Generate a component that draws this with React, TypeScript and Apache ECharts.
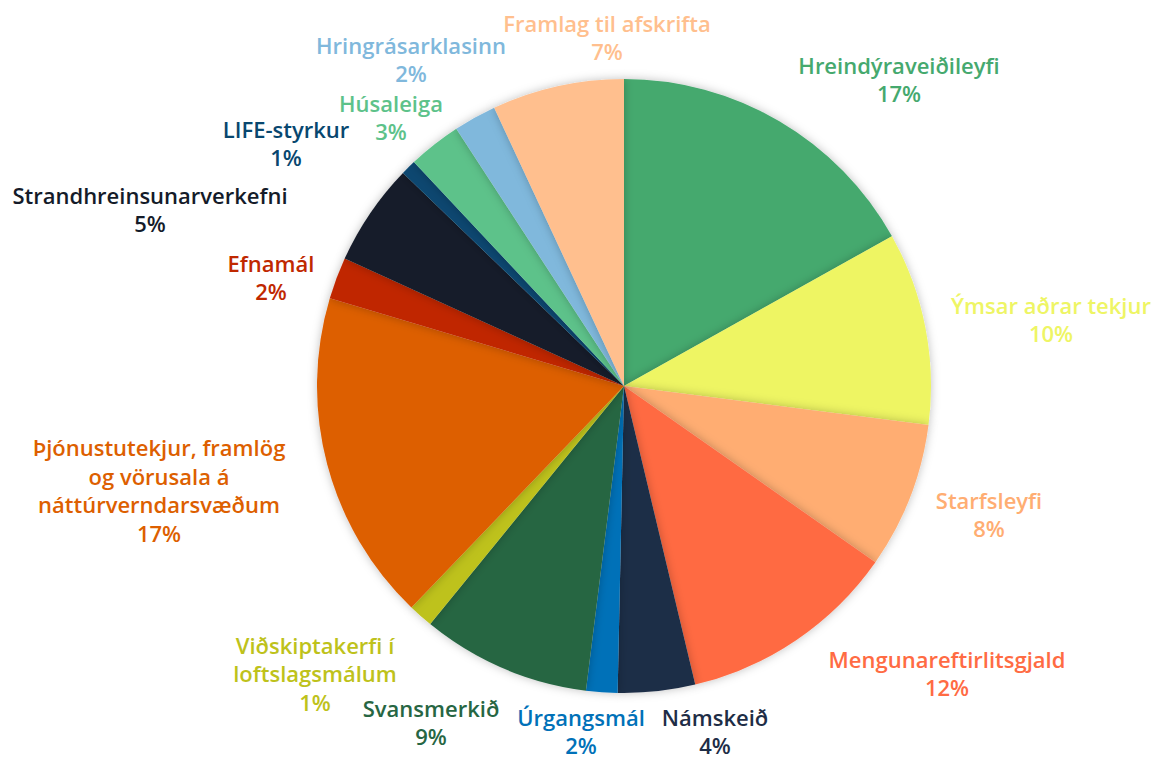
import React, { useEffect, useRef } from "react";
import * as echarts from "echarts";

const categories = [
  "Hreindýraveiðileyfi",
  "Ýmsar aðrar tekjur",
  "Starfsleyfi",
  "Mengunareftirlitsgjald",
  "Námskeið",
  "Úrgangsmál",
  "Svansmerkið",
  "Viðskiptakerfi í\nloftslagsmálum",
  "Þjónustutekjur, framlög\nog vörusala á\nnáttúrverndarsvæðum",
  "Efnamál",
  "Strandhreinsunarverkefni",
  "LIFE-styrkur",
  "Húsaleiga",
  "Hringrásarklasinn",
  "Framlag til afskrifta",
];

const values = [16.9, 10.15, 7.7, 11.55, 4.06, 1.65, 8.9, 1.3, 17.45, 2.2, 5.4, 0.8, 2.8, 2.25, 6.95];

const colors = [
  "#45A96E", "#EEF564", "#FFAD72", "#FF6B43", "#1E2D46", "#0071B8", "#276643", "#BEC21B",
  "#DD5F00", "#C02800", "#141B29", "#08476F", "#5DC28A", "#80B8DC", "#FFBF8E",
];

// label block centres (px)
const labelCentres: [number, number][] = [
  [899, 79], [1051, 319], [989, 514], [947, 673], [715, 731], [581, 731], [431, 722],
  [315, 673], [159, 490], [271, 277], [150, 209], [286, 143], [391, 117], [411, 59], [607, 37],
];

export default function App() {
  const ref = useRef<HTMLDivElement>(null);
  useEffect(() => {
    const chart = echarts.init(ref.current!, null, { renderer: "svg" });
    chart.setOption({
      animation: false,
      backgroundColor: "#ffffff",
      series: [
        {
          type: "pie",
          center: [624, 386],
          radius: 307,
          startAngle: 90,
          clockwise: true,
          data: categories.map((name, i) => ({
            name,
            value: values[i],
            itemStyle: { color: colors[i] },
            label: { color: colors[i] },
          })),
          itemStyle: {
            shadowBlur: 10,
            shadowColor: "rgba(0,0,0,0.25)",
          },
          label: {
            show: true,
            position: "inside",
            overflow: "none",
            formatter: (p: any) => `${p.name}\n${Math.round(p.percent)}%`,
            fontFamily: "Open Sans",
            fontWeight: 600,
            fontSize: 22,
            lineHeight: 28.5,
            align: "center",
          },
          labelLine: { show: false },
          labelLayout: (params: any) => {
            const c = labelCentres[params.dataIndex];
            return { x: c[0], y: c[1], align: "center", verticalAlign: "middle" };
          },
          emphasis: { disabled: true },
        },
      ],
    });
    return () => chart.dispose();
  }, []);
  return (
    <div
      ref={ref}
      style={{ position: "absolute", left: 0, top: 0, width: 1162, height: 762 }}
    />
  );
}
